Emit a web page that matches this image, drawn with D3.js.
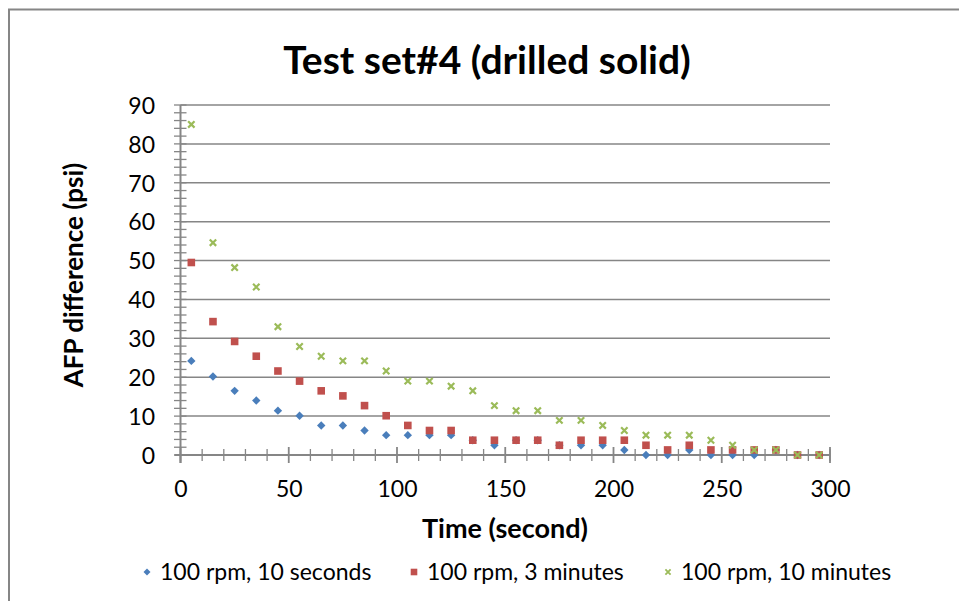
<!DOCTYPE html>
<html>
<head>
<meta charset="utf-8">
<script src="https://cdn.jsdelivr.net/npm/d3@7"></script>
<style>
  html, body { margin: 0; padding: 0; background: #fff; }
  svg { display: block; }
  text { font-family: Lato, "Noto Sans", sans-serif; fill: #000; }
</style>
</head>
<body>
<svg id="chart" width="959" height="601"></svg>
<script>
const title = "Test set#4 (drilled solid)";
const xTitle = "Time (second)";
const yTitle = "AFP difference (psi)";
const seriesNames = ["100 rpm, 10 seconds", "100 rpm, 3 minutes", "100 rpm, 10 minutes"];
const seriesColors = ["#4A7EBB", "#C0504D", "#9BBB59"];
const times = [5,15,25,35,45,55,65,75,85,95,105,115,125,135,145,155,165,175,185,195,205,215,225,235,245,255,265,275,285,295];
const rpm10s = [24.2,20.2,16.5,14.0,11.4,10.1,7.6,7.6,6.3,5.1,5.1,5.1,5.1,3.8,2.5,3.8,3.8,2.5,2.5,2.5,1.3,0,0,1.3,0,0,0,1.3,0,0];
const rpm3m  = [49.5,34.3,29.2,25.4,21.6,19.0,16.5,15.2,12.7,10.1,7.6,6.3,6.3,3.8,3.8,3.8,3.8,2.5,3.8,3.8,3.8,2.5,1.3,2.5,1.3,1.3,1.3,1.3,0,0];
const rpm10m = [85.0,54.6,48.2,43.2,33.0,27.9,25.4,24.2,24.2,21.6,19.0,19.0,17.7,16.5,12.7,11.4,11.4,8.9,8.9,7.6,6.3,5.1,5.1,5.1,3.8,2.5,1.3,1.3,0,0];
const xTicks = [0,50,100,150,200,250,300];
const xMinor = [0,10,20,30,40,60,70,80,90,110,120,130,140,160,170,180,190,210,220,230,240,260,270,280,290];
const yTicks = [0,10,20,30,40,50,60,70,80,90];
const yMinor = d3.range(0, 91, 2);

const svg = d3.select("#chart");
const grey = "#868686";

// outer chart frame
svg.append("rect").attr("x", 9).attr("y", 9.5).attr("width", 1000).attr("height", 700)
  .attr("fill", "none").attr("stroke", grey).attr("stroke-width", 2);

const x = d3.scaleLinear().domain([0, 300]).range([180.5, 830]);
const y = d3.scaleLinear().domain([0, 90]).range([455, 105]);

// gridlines
svg.append("g").selectAll("line").data(yTicks.filter(v => v > 0)).join("line")
  .attr("x1", x(0)).attr("x2", x(300))
  .attr("y1", d => y(d)).attr("y2", d => y(d))
  .attr("stroke", grey).attr("stroke-width", 1.5);

// y axis minor ticks (crossing)
svg.append("g").selectAll("line").data(yMinor).join("line")
  .attr("x1", x(0) - 6.5).attr("x2", x(0) + 6)
  .attr("y1", d => y(d)).attr("y2", d => y(d))
  .attr("stroke", grey).attr("stroke-width", 1.3);

// x axis ticks
svg.append("g").selectAll("line").data(xMinor.concat([300])).join("line")
  .attr("x1", d => x(d)).attr("x2", d => x(d))
  .attr("y1", y(0) - 6).attr("y2", y(0) + 6)
  .attr("stroke", grey).attr("stroke-width", 1.3);
svg.append("g").selectAll("line").data(xTicks).join("line")
  .attr("x1", d => x(d)).attr("x2", d => x(d))
  .attr("y1", y(0) - 8).attr("y2", y(0) + 8)
  .attr("stroke", grey).attr("stroke-width", 1.8);

// axis lines
svg.append("line").attr("x1", x(0)).attr("x2", x(0)).attr("y1", y(90)).attr("y2", y(0) + 8)
  .attr("stroke", grey).attr("stroke-width", 2);
svg.append("line").attr("x1", x(0) - 6).attr("x2", x(300)).attr("y1", y(0)).attr("y2", y(0))
  .attr("stroke", grey).attr("stroke-width", 2);

// y tick labels
const yAxis = d3.axisLeft(y).tickValues(yTicks).tickSize(0).tickPadding(0);
const gy = svg.append("g").attr("transform", `translate(${155},0)`).call(yAxis);
gy.select(".domain").remove();
gy.selectAll("text").attr("font-size", 23).attr("font-family", "Lato, sans-serif").attr("fill", "#000").attr("dy", "0.36em");

// x tick labels
const xAxis = d3.axisBottom(x).tickValues(xTicks).tickSize(0).tickPadding(0);
const gx = svg.append("g").attr("transform", `translate(0,${481})`).call(xAxis);
gx.select(".domain").remove();
gx.selectAll("text").attr("font-size", 23).attr("font-family", "Lato, sans-serif").attr("fill", "#000").attr("dy", "0.71em");

// titles
svg.append("text").attr("x", 487).attr("y", 74).attr("text-anchor", "middle")
  .attr("font-size", 39).attr("font-weight", "bold").text(title);
svg.append("text").attr("x", 505).attr("y", 538).attr("text-anchor", "middle")
  .attr("font-size", 27).attr("font-weight", "bold").text(xTitle);
svg.append("text").attr("transform", "translate(83,275) rotate(-90)").attr("text-anchor", "middle")
  .attr("font-size", 26).attr("font-weight", "bold").text(yTitle);

// markers
function diamondPath(cx, cy, r) {
  return `M${cx},${cy - r}L${cx + r},${cy}L${cx},${cy + r}L${cx - r},${cy}Z`;
}
function squarePath(cx, cy, r) {
  return `M${cx - r},${cy - r}H${cx + r}V${cy + r}H${cx - r}Z`;
}
function cross(cx, cy, r) {
  return `M${cx - r},${cy - r}L${cx + r},${cy + r}M${cx - r},${cy + r}L${cx + r},${cy - r}`;
}

const g = svg.append("g");
g.selectAll("path.s0").data(times.map((t, i) => [t, rpm10s[i]])).join("path")
  .attr("class", "s0")
  .attr("d", d => diamondPath(x(d[0]), y(d[1]), 4.2)).attr("fill", seriesColors[0]);
g.selectAll("path.s1").data(times.map((t, i) => [t, rpm3m[i]])).join("path")
  .attr("class", "s1")
  .attr("d", d => squarePath(x(d[0]), y(d[1]), 3.8)).attr("fill", seriesColors[1]);
g.selectAll("path.s2").data(times.map((t, i) => [t, rpm10m[i]])).join("path")
  .attr("class", "s2")
  .attr("d", d => cross(x(d[0]), y(d[1]), 3.2))
  .attr("stroke", seriesColors[2]).attr("stroke-width", 2.2).attr("fill", "none");

// legend
const legendX = [147, 414, 668];
const lg = svg.append("g");
seriesNames.forEach((name, i) => {
  const lx = legendX[i], ly = 572;
  if (i === 0) {
    lg.append("path").attr("d", diamondPath(lx, ly, 3.5)).attr("fill", seriesColors[0]);
  } else if (i === 1) {
    lg.append("path").attr("d", squarePath(lx, ly, 3.3)).attr("fill", seriesColors[1]);
  } else {
    lg.append("path").attr("d", cross(lx, ly, 2.6))
      .attr("stroke", seriesColors[2]).attr("stroke-width", 1.8).attr("fill", "none");
  }
  lg.append("text").attr("x", lx + 13).attr("y", ly).attr("dy", "0.36em")
    .attr("font-size", 23).text(name);
});
</script>
</body>
</html>
